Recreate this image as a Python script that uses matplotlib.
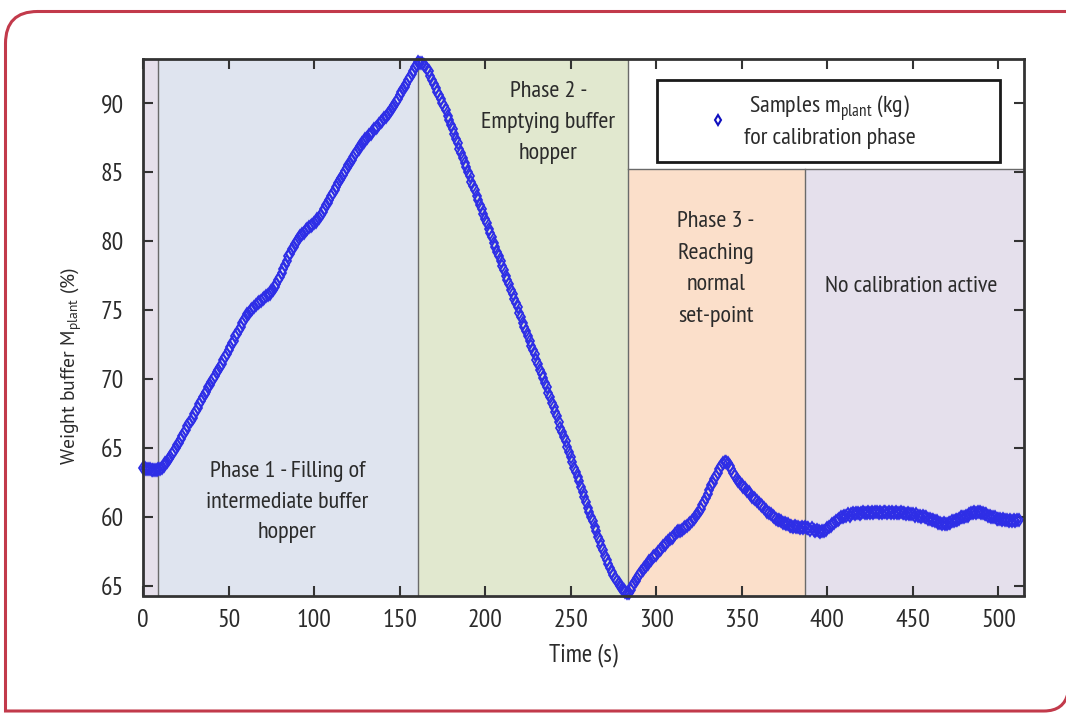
import numpy as np
import matplotlib
matplotlib.use('Agg')
import matplotlib.pyplot as plt
from matplotlib.path import Path
from matplotlib.patches import PathPatch, Rectangle
from matplotlib.lines import Line2D

# ---------------- data (1 sample per second) ----------------
weight = [
    63.6, 63.6, 63.5, 63.5, 63.5, 63.4, 63.4, 63.4, 63.4, 63.5,
    63.5, 63.6, 63.7, 63.9, 64.0, 64.2, 64.4, 64.6, 64.8, 65.0,
    65.2, 65.4, 65.7, 65.9, 66.1, 66.3, 66.6, 66.8, 67.0, 67.2,
    67.5, 67.7, 67.9, 68.2, 68.4, 68.7, 68.9, 69.1, 69.4, 69.6,
    69.8, 70.0, 70.2, 70.5, 70.7, 70.9, 71.1, 71.4, 71.6, 71.8,
    72.1, 72.3, 72.6, 72.8, 73.1, 73.3, 73.6, 73.8, 74.1, 74.3,
    74.5, 74.7, 74.8, 75.0, 75.1, 75.2, 75.4, 75.5, 75.6, 75.7,
    75.8, 75.9, 76.0, 76.1, 76.2, 76.4, 76.5, 76.7, 76.9, 77.2,
    77.4, 77.7, 78.0, 78.3, 78.6, 78.9, 79.1, 79.4, 79.6, 79.8,
    80.0, 80.2, 80.4, 80.5, 80.6, 80.8, 80.9, 81.0, 81.1, 81.2,
    81.3, 81.4, 81.6, 81.7, 81.9, 82.1, 82.3, 82.6, 82.8, 83.0,
    83.3, 83.5, 83.7, 83.9, 84.2, 84.4, 84.6, 84.8, 85.1, 85.3,
    85.5, 85.7, 85.9, 86.1, 86.3, 86.5, 86.7, 86.9, 87.1, 87.2,
    87.4, 87.5, 87.7, 87.8, 87.9, 88.1, 88.2, 88.3, 88.5, 88.6,
    88.7, 88.9, 89.0, 89.2, 89.3, 89.5, 89.7, 89.9, 90.1, 90.3,
    90.6, 90.8, 91.0, 91.2, 91.4, 91.7, 91.9, 92.1, 92.3, 92.6,
    92.8, 93.0, 92.9, 92.9, 92.8, 92.7, 92.5, 92.3, 92.0, 91.7,
    91.4, 91.1, 90.8, 90.6, 90.3, 90.0, 89.8, 89.5, 89.1, 88.8,
    88.4, 88.1, 87.8, 87.4, 87.1, 86.7, 86.4, 86.0, 85.7, 85.4,
    85.0, 84.7, 84.3, 84.0, 83.7, 83.3, 83.0, 82.6, 82.3, 82.0,
    81.6, 81.3, 80.9, 80.6, 80.3, 79.9, 79.6, 79.2, 78.9, 78.6,
    78.2, 77.9, 77.5, 77.2, 76.9, 76.5, 76.2, 75.8, 75.5, 75.2,
    74.8, 74.5, 74.1, 73.8, 73.5, 73.1, 72.8, 72.4, 72.1, 71.8,
    71.4, 71.1, 70.7, 70.4, 70.1, 69.7, 69.4, 69.0, 68.7, 68.3,
    68.0, 67.6, 67.3, 66.9, 66.5, 66.2, 65.8, 65.5, 65.1, 64.7,
    64.4, 64.0, 63.6, 63.3, 62.9, 62.6, 62.2, 61.8, 61.5, 61.1,
    60.7, 60.4, 60.0, 59.7, 59.3, 59.0, 58.6, 58.3, 57.9, 57.6,
    57.2, 56.9, 56.6, 56.3, 56.0, 55.8, 55.6, 55.4, 55.2, 55.0,
    54.8, 54.7, 54.6, 54.5, 54.5, 54.7, 55.0, 55.2, 55.4, 55.6,
    55.8, 56.0, 56.2, 56.3, 56.5, 56.6, 56.8, 56.9, 57.1, 57.2,
    57.3, 57.5, 57.6, 57.7, 57.9, 58.0, 58.1, 58.3, 58.4, 58.5,
    58.6, 58.8, 58.9, 59.0, 59.0, 59.1, 59.2, 59.3, 59.4, 59.5,
    59.6, 59.7, 59.9, 60.1, 60.2, 60.4, 60.6, 60.9, 61.1, 61.4,
    61.7, 62.0, 62.3, 62.5, 62.8, 63.0, 63.2, 63.5, 63.7, 63.9,
    64.0, 64.0, 63.9, 63.7, 63.5, 63.2, 63.0, 62.8, 62.6, 62.5,
    62.3, 62.2, 62.1, 61.9, 61.8, 61.7, 61.5, 61.4, 61.3, 61.2,
    61.0, 60.9, 60.8, 60.7, 60.5, 60.4, 60.3, 60.2, 60.1, 60.0,
    59.9, 59.8, 59.8, 59.7, 59.6, 59.6, 59.5, 59.5, 59.4, 59.4,
    59.3, 59.4, 59.3, 59.3, 59.2, 59.3, 59.2, 59.3, 59.2, 59.2,
    59.1, 59.2, 59.1, 59.0, 59.1, 59.0, 58.9, 59.0, 59.0, 59.1,
    59.2, 59.3, 59.4, 59.5, 59.6, 59.7, 59.8, 59.9, 60.0, 60.0,
    60.1, 60.1, 60.2, 60.1, 60.2, 60.3, 60.2, 60.3, 60.3, 60.2,
    60.3, 60.4, 60.3, 60.3, 60.4, 60.3, 60.4, 60.3, 60.4, 60.4,
    60.3, 60.4, 60.3, 60.4, 60.4, 60.3, 60.4, 60.3, 60.4, 60.3,
    60.4, 60.3, 60.3, 60.4, 60.3, 60.3, 60.2, 60.3, 60.2, 60.2,
    60.2, 60.1, 60.2, 60.1, 60.1, 60.0, 60.1, 60.0, 60.0, 59.9,
    59.9, 59.8, 59.8, 59.7, 59.7, 59.6, 59.6, 59.5, 59.6, 59.5,
    59.5, 59.6, 59.6, 59.7, 59.7, 59.8, 59.8, 59.9, 60.0, 60.0,
    60.0, 60.1, 60.1, 60.2, 60.3, 60.3, 60.4, 60.3, 60.4, 60.4,
    60.3, 60.3, 60.2, 60.2, 60.1, 60.1, 60.0, 60.0, 60.0, 59.9,
    59.9, 59.9, 59.8, 59.9, 59.8, 59.8, 59.7, 59.8, 59.7, 59.8,
    59.7, 59.8, 59.8,
]
time_s = np.arange(len(weight))

phase_edges = [0, 8.9, 160.6, 283.3, 386.7, 515]
phase_colors = ['#e6e0eb', '#dfe4ef', '#e1e8cf', '#fbdfca', '#e5e0ec']
phase_tops = [None, None, None, 85.2, 85.2]
phase_texts = ['',
               'Phase 1 - Filling of\nintermediate buffer\nhopper',
               'Phase 2 -\nEmptying buffer\nhopper',
               'Phase 3 -\nReaching\nnormal\nset-point',
               'No calibration active']
phase_text_pos = [None, (84.3, 61.1), (236.9, 88.6), (335.0, 78.0), (449.0, 76.7)]
phase_text_spacing = [None, 1.6, 1.6, 1.66, 1.6]

x_ticks = [0, 50, 100, 150, 200, 250, 300, 350, 400, 450, 500]
y_ticks = [55, 60, 65, 70, 75, 80, 85, 90]
y_tick_labels = ['65', '60', '65', '70', '75', '80', '85', '90']

legend_label = 'Samples m$_{\\mathregular{plant}}$ (kg)\nfor calibration phase'

# ---------------- styling ----------------
NARROW = ['PT Sans Narrow', 'Fira Sans Condensed', 'Roboto Condensed', 'DejaVu Sans']
REGULAR = ['PT Sans', 'Source Sans 3', 'Open Sans', 'DejaVu Sans']
plt.rcParams['font.family'] = NARROW
TXT = '#2b2b2b'
BLUE = '#2e2ee6'

fig = plt.figure(figsize=(10.66, 7.13), dpi=100)
ax = fig.add_axes([143/1066, 1-595.5/713, (1024-143)/1066, (595.5-59)/713])
XMIN, XMAX = 0, 515
YMIN, YMAX = 54.33, 93.2
ax.set_xlim(XMIN, XMAX)
ax.set_ylim(YMIN, YMAX)

for i in range(len(phase_colors)):
    x0, x1 = phase_edges[i], phase_edges[i + 1]
    top = YMAX if phase_tops[i] is None else phase_tops[i]
    ax.fill_between([x0, x1], YMIN, top, color=phase_colors[i], lw=0, zorder=0)

# region border lines
edge_col = '#6a6a6a'
for i in range(1, len(phase_edges) - 1):
    top = YMAX if phase_tops[i] is None else phase_tops[i]
    top = max(top, YMAX if phase_tops[i - 1] is None else phase_tops[i - 1])
    ax.plot([phase_edges[i], phase_edges[i]], [YMIN, top], color=edge_col, lw=1.0, zorder=1)
ax.plot([phase_edges[3], XMAX], [phase_tops[3], phase_tops[3]], color=edge_col, lw=1.0, zorder=1)

ax.plot(time_s, weight, linestyle='none', marker='d', markersize=6.5,
        markerfacecolor='none', markeredgecolor=BLUE, markeredgewidth=1.3,
        zorder=3, clip_on=False)

for txt, pos, ls in zip(phase_texts, phase_text_pos, phase_text_spacing):
    if pos is None:
        continue
    ax.text(pos[0], pos[1], txt, ha='center', va='center', fontsize=17.5,
            color=TXT, linespacing=ls, zorder=4)

# legend box
box = Rectangle(((656.7-143)/881, (595.5-161.7)/536.5), (1000-656.7)/881, (161.7-80)/536.5,
                transform=ax.transAxes, facecolor='white', edgecolor='#1a1a1a', lw=2, zorder=5)
ax.add_patch(box)
handle = Line2D([], [], linestyle='none', marker='d', markersize=5.5,
                markerfacecolor='none', markeredgecolor='#1010c0', markeredgewidth=1.5)
leg = ax.legend([handle], [legend_label], loc='center',
                bbox_to_anchor=((811-143)/881, (595.5-121)/536.5),
                bbox_transform=ax.transAxes, frameon=False, fontsize=17.5,
                handletextpad=0.55, handlelength=1.0, borderpad=0, borderaxespad=0)
leg.set_zorder(6)
for t in leg.get_texts():
    t.set_multialignment('center')
    t.set_color(TXT)
    t.set_linespacing(1.35)

ax.set_xticks(x_ticks)
ax.set_yticks(y_ticks)
ax.set_yticklabels(y_tick_labels)
ax.tick_params(direction='in', length=7, width=1.5, colors='#333333',
               top=True, right=True, labelsize=18.5, labelcolor=TXT)
ax.tick_params(axis='x', pad=10)
ax.tick_params(axis='y', pad=14)
for s in ax.spines.values():
    s.set_linewidth(2)
    s.set_color('#333333')
    s.set_zorder(7)

ax.set_xlabel('Time (s)', fontsize=18, color=TXT, labelpad=8)
ax.set_ylabel('Weight buffer M$_{\\mathregular{plant}}$ (%)', fontsize=14, color=TXT,
              family=REGULAR)
ax.yaxis.set_label_coords((84 - 143) / 881, (595.5 - 366) / 536.5)

# rounded red frame around the figure
W, H = 1066.0, 713.0
L, T, B, R = 5.5, 11.5, 711.0, 1066.0
r = 32.0
verts = [(R + 5, T), (L + r, T), (L, T), (L, T + r), (L, B), (R - 22, B), (R - 2, B), (R + 2, B - 18)]
codes = [Path.MOVETO, Path.LINETO, Path.CURVE3, Path.CURVE3, Path.LINETO, Path.LINETO, Path.CURVE3, Path.CURVE3]
verts_fig = [(x / W, 1 - y / H) for x, y in verts]
frame = PathPatch(Path(verts_fig, codes), transform=fig.transFigure, fill=False,
                  edgecolor='#c23a4b', lw=2.2)
fig.patches.append(frame)

fig.savefig('out.png', dpi=100)
